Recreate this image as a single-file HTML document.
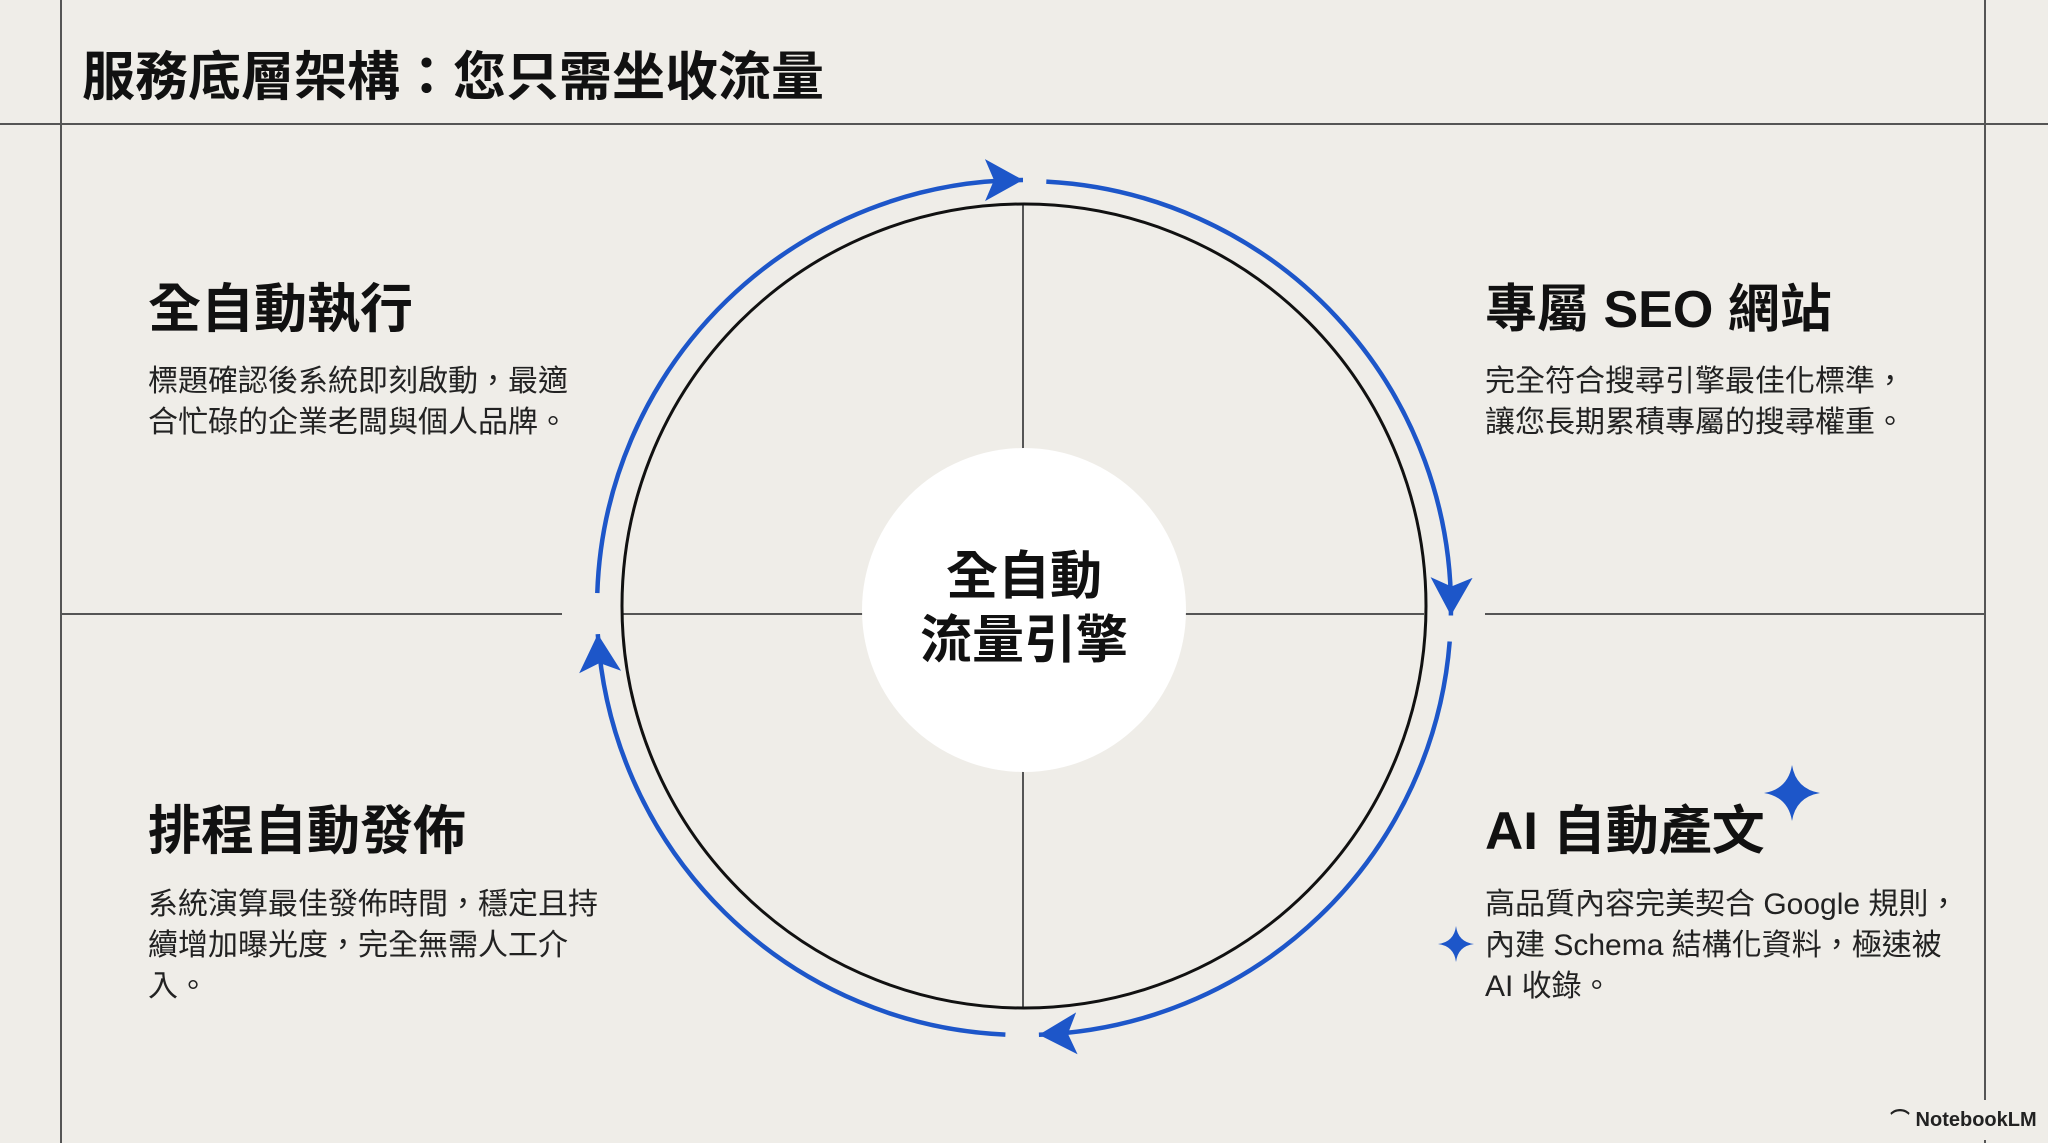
<!DOCTYPE html>
<html><head><meta charset="utf-8"><style>
html,body{margin:0;padding:0}
body{width:2048px;height:1143px;background:#efede8;position:relative;overflow:hidden;font-family:"Liberation Sans","Noto Sans CJK TC",sans-serif;color:#111}
.t{position:absolute;white-space:nowrap}
.h{font-weight:bold;font-size:53px;line-height:60px}
.d{font-size:30px;line-height:41px;color:#222}
</style></head><body>
<svg width="2048" height="1143" style="position:absolute;left:0;top:0">
<defs>
<marker id="a" markerUnits="userSpaceOnUse" markerWidth="40" markerHeight="42" refX="38" refY="21" orient="auto">
<path d="M0,0 L38,21 L0,42 L9,21 Z" fill="#1d56c9"/>
</marker>
</defs>
<g stroke="#555" stroke-width="2" fill="none">
<line x1="0" y1="124" x2="2048" y2="124"/>
<line x1="61" y1="0" x2="61" y2="1143"/>
<line x1="1985" y1="0" x2="1985" y2="1143"/>
<line x1="61" y1="614" x2="562" y2="614"/>
<line x1="1485" y1="614" x2="1985" y2="614"/>
<line x1="623" y1="614" x2="1424" y2="614"/>
<line x1="1023" y1="203" x2="1023" y2="1008"/>
</g>
<rect x="1975" y="1100" width="20" height="40" fill="#efede8"/>
<circle cx="1024" cy="606" r="402" fill="none" stroke="#111" stroke-width="3"/>
<circle cx="1024" cy="610" r="162" fill="#fff"/>
<g stroke="#1d56c9" stroke-width="4.5" fill="none" marker-end="url(#a)">
<path d="M597.3,593.1 A427,427 0 0 1 1023,180"/>
<path d="M1046.3,181.6 A427,427 0 0 1 1450.9,615.5"/>
<path d="M1449.7,641.5 A427,427 0 0 1 1038.9,1034.7"/>
<path d="M1005.4,1034.6 A427,427 0 0 1 597.8,634.1"/>
</g>
<path d="M1792,765 Q1796,789 1820,793 Q1796,797 1792,821 Q1788,797 1764,793 Q1788,789 1792,765 Z" fill="#1d56c9"/>
<path d="M1456,926 Q1458,942 1474,944 Q1458,946 1456,962 Q1454,946 1438,944 Q1454,942 1456,926 Z" fill="#1d56c9"/>
</svg>
<div class="t" style="left:82px;top:46px;font-size:53px;font-weight:bold;line-height:64px">服務底層架構：您只需坐收流量</div>
<div class="t h" style="left:148px;top:280px">全自動執行</div>
<div class="t d" style="left:148px;top:361px">標題確認後系統即刻啟動，最適<br>合忙碌的企業老闆與個人品牌。</div>
<div class="t h" style="left:1485px;top:280px;font-size:52px">專屬 SEO 網站</div>
<div class="t d" style="left:1485px;top:361px">完全符合搜尋引擎最佳化標準，<br>讓您長期累積專屬的搜尋權重。</div>
<div class="t h" style="left:148px;top:802px">排程自動發佈</div>
<div class="t d" style="left:148px;top:884px">系統演算最佳發佈時間，穩定且持<br>續增加曝光度，完全無需人工介<br>入。</div>
<div class="t h" style="left:1485px;top:802px">AI 自動產文</div>
<div class="t d" style="left:1485px;top:884px">高品質內容完美契合 Google 規則，<br>內建 Schema 結構化資料，極速被<br>AI 收錄。</div>
<div class="t" style="left:862px;top:545px;width:324px;text-align:center;font-size:52px;font-weight:bold;line-height:64px">全自動<br>流量引擎</div>
<div class="t" style="left:1890px;top:1108px;font-size:20px;line-height:24px;color:#222;font-weight:600">⌒ NotebookLM</div>
</body></html>
